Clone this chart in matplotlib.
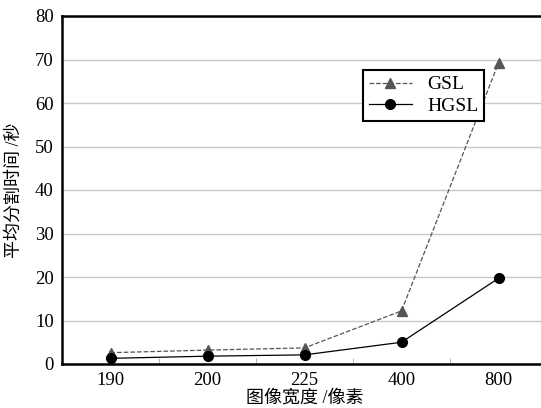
import numpy as np
import matplotlib
matplotlib.use("Agg")
import matplotlib.pyplot as plt
from matplotlib.ticker import FixedLocator

plt.rcParams['font.family'] = ['Liberation Serif', 'Noto Sans CJK SC']

# 数据
widths = ["190", "200", "225", "400", "800"]
gsl = [2.6, 3.2, 3.7, 12.2, 69.2]
hgsl = [1.3, 1.8, 2.1, 5.0, 19.7]

x = np.arange(len(widths))

fig = plt.figure(figsize=(5.41, 4.08), dpi=100)
ax = fig.add_axes([62 / 541, 44 / 408, 485 / 541, 348 / 408])

ax.plot(x, gsl, "--^", color="#555555", lw=0.9, ms=7, label="GSL")
ax.plot(x, hgsl, "-o", color="black", lw=0.9, ms=7, label="HGSL")

ax.set_xlim(-0.5, len(widths) - 0.5)
ax.set_ylim(0, 80)
ax.set_yticks(np.arange(0, 81, 10))
ax.set_xticks(x)
ax.set_xticklabels(widths)
ax.xaxis.set_minor_locator(FixedLocator(x[:-1] + 0.5))
ax.tick_params(axis="both", which="major", length=0, labelsize=13.5, pad=6)
ax.tick_params(axis="x", which="minor", direction="in", length=4, color="#aaaaaa")
ax.yaxis.grid(True, color="#c8c8c8", lw=1)
ax.set_axisbelow(True)
for s in ax.spines.values():
    s.set_linewidth(1.8)

ax.set_xlabel("图像宽度 /像素", fontsize=13, labelpad=0)
ax.set_ylabel("平均分割时间 /秒", fontsize=13, labelpad=9)

leg = ax.legend(loc="upper left", bbox_to_anchor=(301 / 485, 1 - 54 / 348),
                borderaxespad=0, fontsize=14, fancybox=False,
                edgecolor="black", framealpha=1,
                handlelength=2.2, borderpad=0.3, labelspacing=0.2)
leg.get_frame().set_linewidth(1.5)

fig.savefig("out.png", dpi=100)
